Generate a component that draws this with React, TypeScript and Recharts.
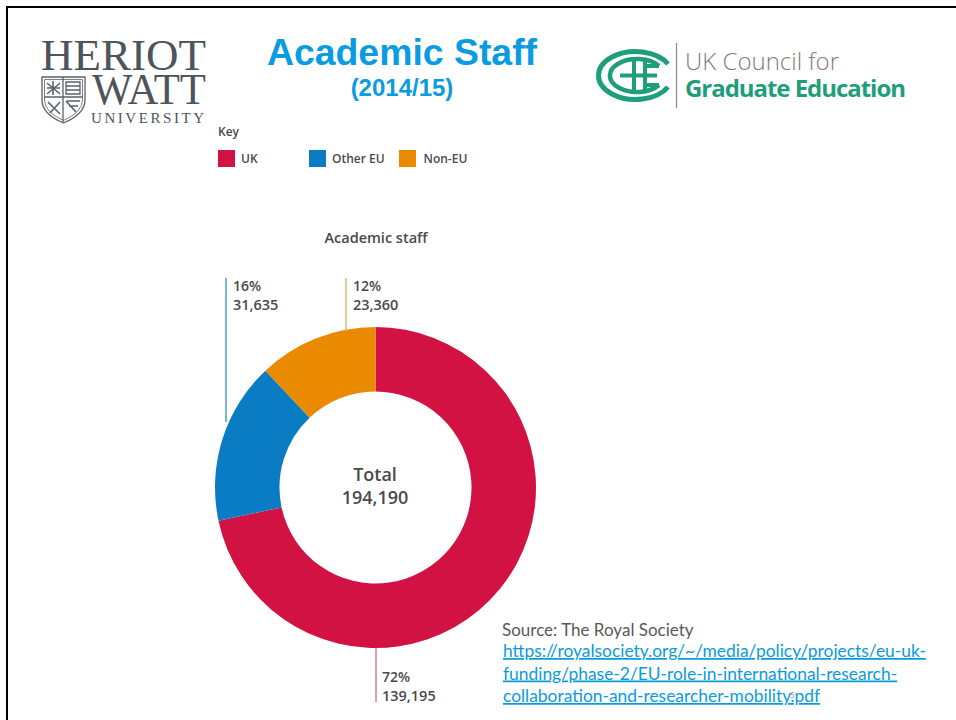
import { Legend, Pie, PieChart } from 'recharts';

const categories = ['UK', 'Other EU', 'Non-EU'];
const staffCounts = [139195, 31635, 23360];
const shareLabels = ['72%', '16%', '12%'];
const sliceColors = ['#D21243', '#0A7CC4', '#EA8A00'];
const totalLabel = '194,190';
const sourceLinkLines = [
  'https://royalsociety.org/~/media/policy/projects/eu-uk-',
  'funding/phase-2/EU-role-in-international-research-',
  'collaboration-and-researcher-mobility.pdf',
];

const pieData = categories.map((name, i) => ({
  name,
  value: staffCounts[i],
  fill: sliceColors[i],
}));

const labelFont = '"Open Sans", sans-serif';
const sourceFont = '"Lato", sans-serif';
const labelColor = '#4a4a4a';

// leader line and text position for each slice callout
const callouts = [
  { lineX: 376, y1: 648, y2: 702, textX: 382, y: 682, lineColor: '#D9799B' },
  { lineX: 226, y1: 278, y2: 422, textX: 233, y: 291, lineColor: '#4C9CCB' },
  { lineX: 346, y1: 278, y2: 331, textX: 353, y: 291, lineColor: '#E3B46A' },
];

const renderCallout = ({ index }: any) => {
  const c = callouts[index];
  return (
    <g key={index}>
      <line x1={c.lineX} x2={c.lineX} y1={c.y1} y2={c.y2} stroke={c.lineColor} strokeWidth={1.5} />
      <text x={c.textX} y={c.y} fontFamily={labelFont} fontSize={14} fontWeight={600} fill={labelColor}>
        {shareLabels[index]}
      </text>
      <text x={c.textX} y={c.y + 19} fontFamily={labelFont} fontSize={14.5} fontWeight={600} fill={labelColor}>
        {staffCounts[index].toLocaleString('en-GB')}
      </text>
    </g>
  );
};

const KeyLegend = ({ payload }: any) => {
  // recharts hands the sectors over last-first on a clockwise pie
  const entries = [...(payload || [])].sort(
    (a: any, b: any) => categories.indexOf(a.value) - categories.indexOf(b.value),
  );
  return (
    <div style={{ display: 'flex', alignItems: 'center', fontFamily: labelFont, fontSize: 12, fontWeight: 600, color: labelColor }}>
      {entries.map((entry: any, i: number) => (
        <div key={entry.value} style={{ display: 'flex', alignItems: 'center', width: i === 0 ? 92.5 : 91 }}>
          <span style={{ width: 17, height: 17, background: entry.color, marginRight: i === 2 ? 8 : 6 }} />
          <span>{entry.value}</span>
        </div>
      ))}
    </div>
  );
};

const HeriotWattLogo = () => (
  <g fill="#4d555b" fontFamily='"Liberation Serif", serif'>
    <text x={41} y={70} fontSize={44} textLength={165} lengthAdjust="spacingAndGlyphs">HERIOT</text>
    <text x={92} y={104} fontSize={44} textLength={114} lengthAdjust="spacingAndGlyphs">WATT</text>
    <text x={91} y={123} fontSize={15} textLength={113}>UNIVERSITY</text>
    <g fill="none" stroke="#5b6268" strokeWidth={1.3}>
      <path d="M42 77 H85 V100 Q85 114 63.5 123 Q42 114 42 100 Z" />
      <path d="M44.5 79.5 H82.5 V100 Q82.5 112 63.5 120.5 Q44.5 112 44.5 100 Z" strokeWidth={0.8} />
      <path d="M63 77 V122 M44 97 H83 M66 82 H80 V94 H66 Z M66 86 H80 M66 90 H80" />
      <path d="M47 83 L60 94 M60 83 L47 94 M53 81 V95 M47 88 H60 M48 102 L60 114 M60 102 L50 113 M67 101 H80 M69 106 H78 M66 101 L76 112" strokeWidth={1.6} />
    </g>
  </g>
);

const CouncilLogo = () => (
  <g>
    <g fill="none" stroke="#1F9E7C" strokeLinecap="butt">
      <path d="M668 64 A37 24 0 1 0 668 87" strokeWidth={5} />
      <path d="M659 66 A27 16.5 0 1 0 659 85" strokeWidth={4.5} />
      <path d="M634 60 V91 M645 60 V91 M620 75.5 H657 M645 66 H659 M645 85 H659" strokeWidth={4} />
    </g>
    <line x1={676.5} x2={676.5} y1={43} y2={108} stroke="#8a8a8a" strokeWidth={1.2} />
    <text x={685} y={70} fontFamily='"Open Sans", sans-serif' fontSize={24} fontWeight={300} fill="#7d7d7d" textLength={154}>
      UK Council for
    </text>
    <text x={685} y={97} fontFamily='"Open Sans", sans-serif' fontSize={24} fontWeight={700} fill="#1F9E7C" textLength={221}>
      Graduate Education
    </text>
  </g>
);

const App = () => (
  <div style={{ position: 'absolute', left: 0, top: 0, width: 956, height: 720, background: '#fff' }}>
    <PieChart width={956} height={720} margin={{ top: 0, right: 0, bottom: 0, left: 0 }}>
      {/* slide frame */}
      <path d="M7 720 V7 H956" fill="none" stroke="#000" strokeWidth={2} />

      <HeriotWattLogo />
      <CouncilLogo />

      <text x={402} y={65} textAnchor="middle" fontFamily='"Liberation Sans", sans-serif' fontSize={37.4} fontWeight={700} fill="#0A9BE0">
        Academic Staff
      </text>
      <text x={402} y={96} textAnchor="middle" fontFamily='"Liberation Sans", sans-serif' fontSize={24} fontWeight={700} fill="#0A9BE0">
        (2014/15)
      </text>

      <text x={218} y={136} fontFamily={labelFont} fontSize={12} fontWeight={600} fill={labelColor}>Key</text>
      <text x={376} y={243} textAnchor="middle" fontFamily={labelFont} fontSize={14.5} fontWeight={600} fill={labelColor}>
        Academic staff
      </text>

      <Legend
        layout="horizontal"
        verticalAlign="middle"
        content={<KeyLegend />}
        wrapperStyle={{ position: 'absolute', left: 218, top: 150, width: 270, height: 17 }}
      />

      <Pie
        data={pieData}
        dataKey="value"
        nameKey="name"
        cx={375.5}
        cy={487.5}
        innerRadius={96}
        outerRadius={160.5}
        startAngle={90}
        endAngle={-270}
        stroke="none"
        label={renderCallout}
        labelLine={false}
        isAnimationActive={false}
      />

      <text x={375} y={481} textAnchor="middle" fontFamily={labelFont} fontSize={18} fontWeight={600} fill={labelColor}>Total</text>
      <text x={375} y={504} textAnchor="middle" fontFamily={labelFont} fontSize={18} fontWeight={600} fill={labelColor}>{totalLabel}</text>

      <text x={502} y={636} fontFamily={sourceFont} fontSize={17} fill="#595959">Source: The Royal Society</text>
      {sourceLinkLines.map((line, i) => (
        <text
          key={line}
          x={503}
          y={657 + i * 22.5}
          fontFamily={sourceFont}
          fontSize={17.4}
          fill="#0A9BDC"
          textDecoration="underline"
        >
          {line}
        </text>
      ))}
      <text x={790} y={698} fontFamily={sourceFont} fontSize={8} fill="#8a8a8a">5</text>
    </PieChart>
  </div>
);

export default App;
